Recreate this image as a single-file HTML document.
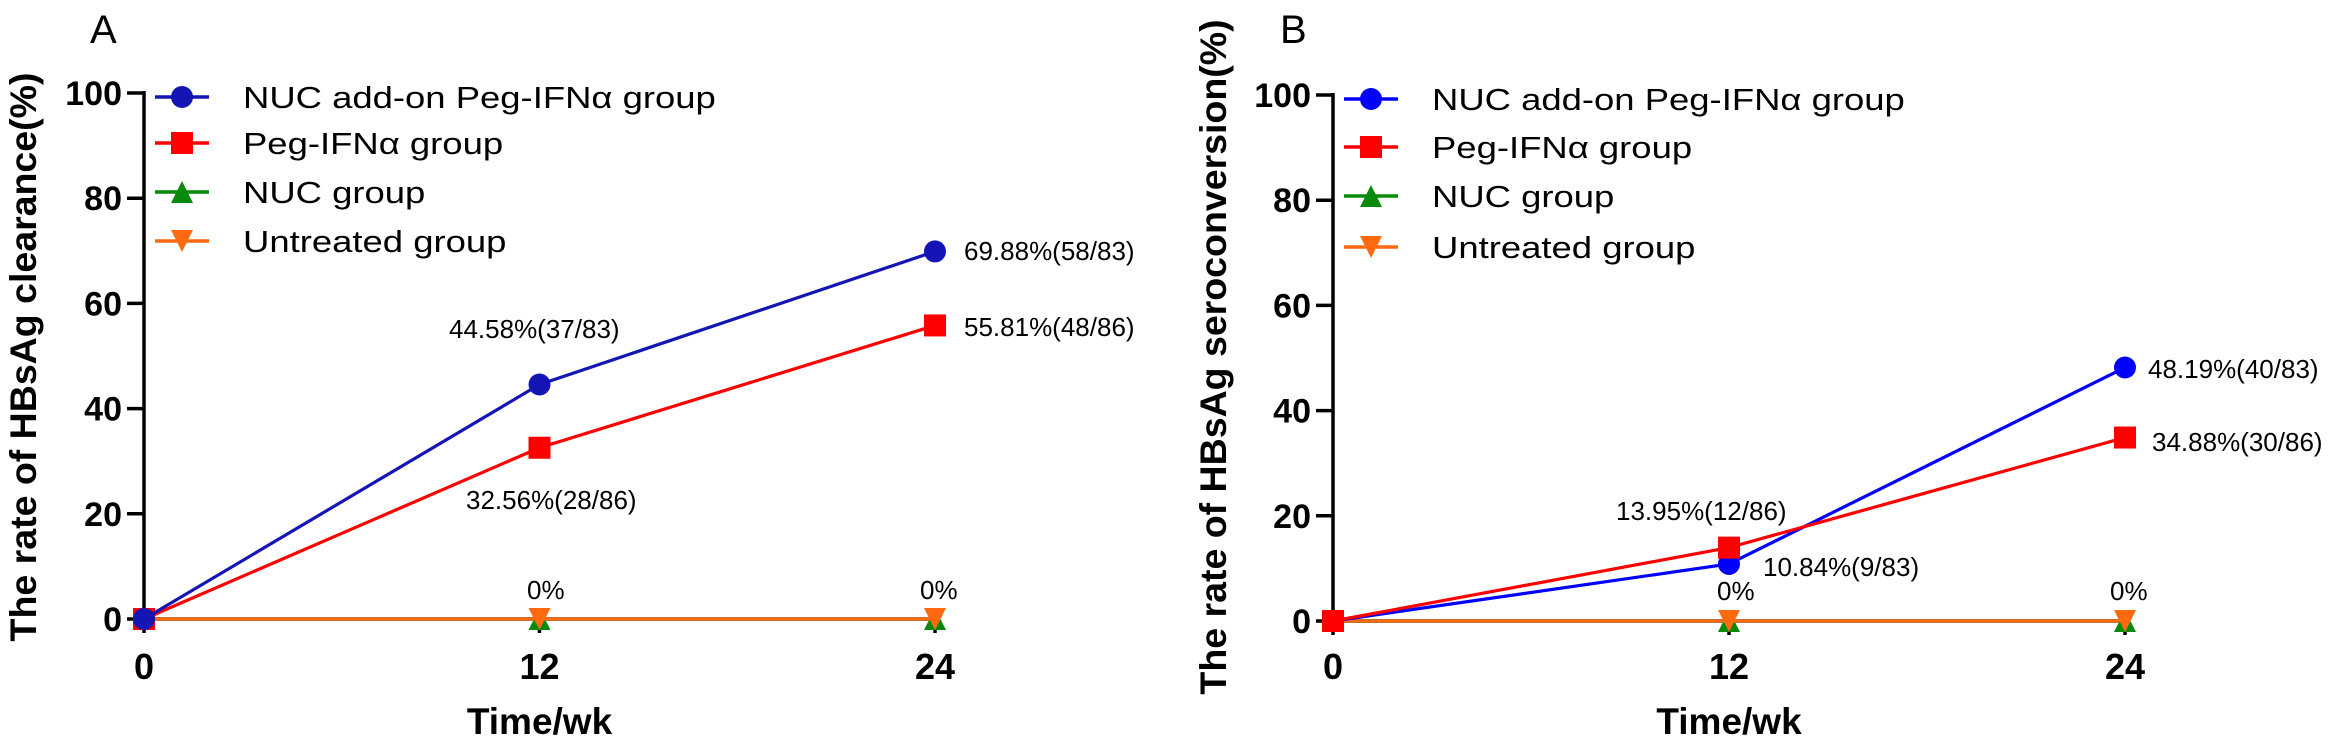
<!DOCTYPE html>
<html><head><meta charset="utf-8">
<style>
html,body{margin:0;padding:0;background:#fff;}
svg{display:block;font-family:"Liberation Sans",Arial,sans-serif;}
</style></head>
<body>
<svg id="fig" width="2348" height="741" viewBox="0 0 2348 741" xmlns="http://www.w3.org/2000/svg"></svg>
<script>
const weeks = [0, 12, 24];
const xTicks = ["0", "12", "24"];
const yTicks = [0, 20, 40, 60, 80, 100];
const seriesNames = ["NUC add-on Peg-IFNα group", "Peg-IFNα group", "NUC group", "Untreated group"];
const clearanceCombo = [0, 44.58, 69.88];
const clearancePeg = [0, 32.56, 55.81];
const clearanceNuc = [0, 0, 0];
const clearanceUntreated = [0, 0, 0];
const seroCombo = [0, 10.84, 48.19];
const seroPeg = [0, 13.95, 34.88];
const seroNuc = [0, 0, 0];
const seroUntreated = [0, 0, 0];
const clearanceLabels = ["44.58%(37/83)", "69.88%(58/83)", "32.56%(28/86)", "55.81%(48/86)", "0%", "0%"];
const seroLabels = ["10.84%(9/83)", "48.19%(40/83)", "13.95%(12/86)", "34.88%(30/86)", "0%", "0%"];

const NS = "http://www.w3.org/2000/svg";
const svg = document.getElementById("fig");
function mk(tag, attrs, parent, text) {
  const e = document.createElementNS(NS, tag);
  for (const k in attrs) e.setAttribute(k, attrs[k]);
  if (text !== undefined) e.textContent = text;
  (parent || svg).appendChild(e);
  return e;
}
function marker(g, type, cx, cy, color) {
  const s = 11;
  let m;
  if (type === "circle") m = mk("circle", {cx: cx, cy: cy, r: s, fill: color}, g);
  else if (type === "square") m = mk("rect", {x: cx - s, y: cy - s, width: 2 * s, height: 2 * s, fill: color}, g);
  else if (type === "up") m = mk("polygon", {points: `${cx},${cy - s} ${cx - s},${cy + s} ${cx + s},${cy + s}`, fill: color}, g);
  else m = mk("polygon", {points: `${cx - s},${cy - s} ${cx + s},${cy - s} ${cx},${cy + s}`, fill: color}, g);
  return m;
}

function panel(cfg) {
  const g = mk("g", {});
  
  
  const X = w => cfg.x0 + (w / 24) * (cfg.x24 - cfg.x0);
  const Y = v => cfg.y0 - (v / 100) * (cfg.y0 - cfg.y100);

  const letter = mk("text", {x: cfg.letterX, y: 43, "font-size": 40}, g, cfg.letter);
  
  

  const ya = mk("g", {}, g);
  
  
  mk("line", {x1: cfg.x0, y1: Y(100) - 2, x2: cfg.x0, y2: Y(0) + 2, stroke: "#000", "stroke-width": 3.5}, ya);
  yTicks.forEach(t => {
    mk("line", {x1: cfg.x0 - 17, y1: Y(t), x2: cfg.x0, y2: Y(t), stroke: "#000", "stroke-width": 3.5}, ya);
    const tl = mk("text", {x: cfg.x0 - 22, y: Y(t) + 12, "font-size": 34, "font-weight": "bold", "text-anchor": "end"}, ya, String(t));
    
    
  });
  const yt = mk("text", {transform: `translate(${cfg.yTitleX},357) rotate(-90)`, "font-size": 37.5, "font-weight": "bold", "text-anchor": "middle"}, g, cfg.yTitle);
  
  

  const xa = mk("g", {}, g);
  
  
  mk("line", {x1: cfg.x0, y1: Y(0), x2: X(24) + 2, y2: Y(0), stroke: "#000", "stroke-width": 3.5}, xa);
  weeks.forEach((w, i) => {
    mk("line", {x1: X(w), y1: Y(0), x2: X(w), y2: Y(0) + 14, stroke: "#000", "stroke-width": 3.5}, xa);
    const tl = mk("text", {x: X(w), y: 679, "font-size": 36, "font-weight": "bold", "text-anchor": "middle"}, xa, xTicks[i]);
    
    
  });
  const xt = mk("text", {x: X(12), y: 734, "font-size": 37, "font-weight": "bold", "text-anchor": "middle"}, g, "Time/wk");
  
  

  const types = ["circle", "square", "up", "down"];
  const order = [2, 3, 1, 0];
  if (cfg.pegOnTop) { order[2] = 0; order[3] = 1; }
  order.forEach(si => {
    const data = cfg.series[si];
    const sg = mk("g", {}, g);
    
    
    const pts = data.map((v, i) => `${X(weeks[i])},${Y(v)}`).join(" ");
    mk("polyline", {points: pts, fill: "none", stroke: cfg.colors[si], "stroke-width": 3.2}, sg);
    data.forEach((v, i) => {
      const m = marker(sg, types[si], X(weeks[i]), Y(v), cfg.colors[si]);
      
      
    });
  });

  cfg.labels.forEach((txt, i) => {
    const p = cfg.labelPos[i];
    const a = mk("text", {x: p[0], y: p[1], "font-size": 26}, g, txt);
    
    
  });

  const lg = mk("g", {}, g);
  
  
  let sx = 1;
  seriesNames.forEach((n, i) => {
    const ly = cfg.legendY[i];
    const e = mk("g", {}, lg);
    
    
    mk("line", {x1: cfg.legX - 27, y1: ly, x2: cfg.legX + 27, y2: ly, stroke: cfg.colors[i], "stroke-width": 3.5}, e);
    marker(e, types[i], cfg.legX, ly, cfg.colors[i]);
    const t = mk("text", {x: 0, y: 0, "font-size": 31}, e, n);
    if (i === 0) { const w = t.getComputedTextLength(); if (w > 0) sx = 473 / w; }
    t.setAttribute("transform", `translate(${cfg.legTextX},${ly + 11}) scale(${sx},1)`);
  });
}

panel({
  name: "panel-a-clearance", letter: "A", letterX: 90,
  x0: 144, x24: 935, y0: 619, y100: 93, yTitleX: 36,
  yTitle: "The rate of HBsAg clearance(%)",
  series: [clearanceCombo, clearancePeg, clearanceNuc, clearanceUntreated],
  colors: ["#1515b5", "#ff0000", "#0a8a0a", "#ff6a10"],
  labels: clearanceLabels,
  labelPos: [[449, 338], [964, 260], [466, 509], [964, 336], [527, 599], [920, 599]],
  legendY: [97, 143, 192, 241], legX: 182, legTextX: 243
});
panel({
  name: "panel-b-seroconversion", letter: "B", letterX: 1280, pegOnTop: true,
  x0: 1333, x24: 2125, y0: 621, y100: 95, yTitleX: 1226,
  yTitle: "The rate of HBsAg seroconversion(%)",
  series: [seroCombo, seroPeg, seroNuc, seroUntreated],
  colors: ["#0000ff", "#ff0000", "#0a8a0a", "#ff6a10"],
  labels: seroLabels,
  labelPos: [[1763, 576], [2148, 378], [1616, 520], [2152, 451], [1717, 600], [2110, 600]],
  legendY: [99, 147, 196, 247], legX: 1371, legTextX: 1432
});
</script>
</body></html>
